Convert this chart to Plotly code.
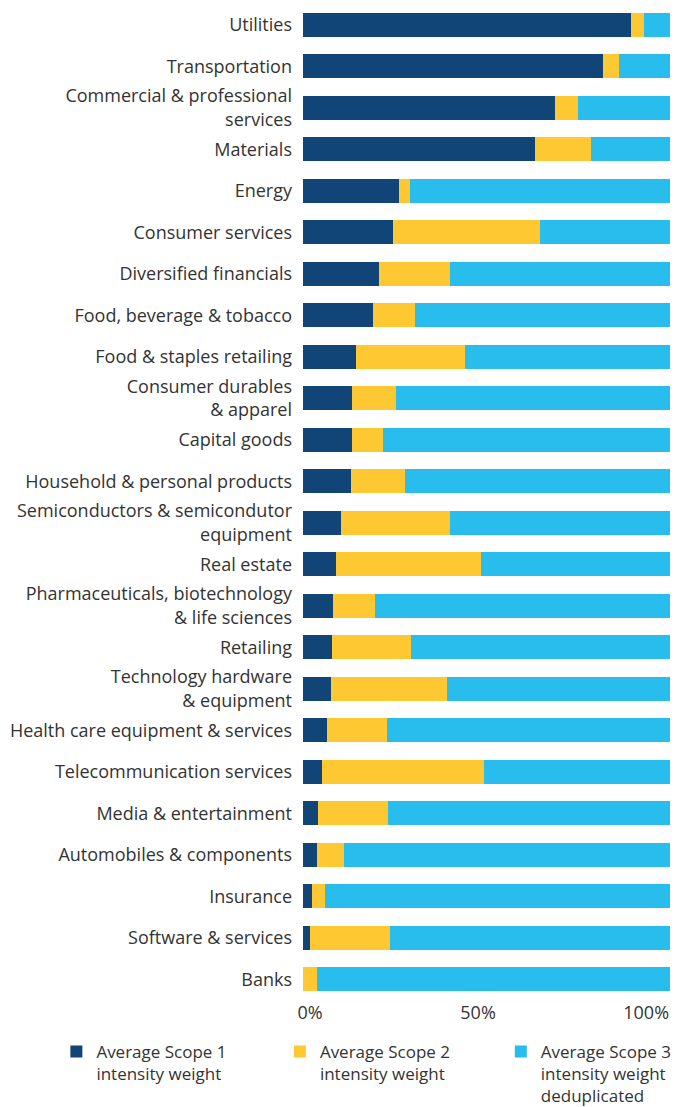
import plotly.graph_objects as go

categories = [
    "Utilities", "Transportation", "Commercial & professional<br>services", "Materials",
    "Energy", "Consumer services", "Diversified financials", "Food, beverage & tobacco",
    "Food & staples retailing", "Consumer durables<br>& apparel", "Capital goods",
    "Household & personal products", "Semiconductors & semicondutor<br>equipment",
    "Real estate", "Pharmaceuticals, biotechnology<br>& life sciences", "Retailing",
    "Technology hardware<br>& equipment", "Health care equipment & services",
    "Telecommunication services", "Media & entertainment", "Automobiles & components",
    "Insurance", "Software & services", "Banks",
]
scope1 = [89.4, 81.7, 68.7, 63.2, 26.2, 24.5, 20.7, 19.1, 14.4, 13.4, 13.4, 13.1,
          10.4, 9.0, 8.2, 7.9, 7.6, 6.5, 5.2, 4.1, 3.8, 2.5, 1.9, 0.0]
scope2 = [3.5, 4.4, 6.3, 15.3, 3.0, 40.1, 19.3, 11.4, 29.7, 12.0, 8.4, 14.7,
          29.7, 39.5, 11.4, 21.5, 31.6, 16.4, 44.1, 19.1, 7.4, 3.5, 21.8, 3.8]
scope3 = [7.1, 13.9, 25.1, 21.5, 70.8, 35.4, 59.9, 69.5, 55.9, 74.7, 78.2, 72.2,
          59.9, 51.5, 80.4, 70.6, 60.8, 77.1, 50.7, 76.8, 88.8, 94.0, 76.3, 96.2]
series_names = ["Average Scope 1<br>intensity weight",
                "Average Scope 2<br>intensity weight",
                "Average Scope 3<br>intensity weight<br>deduplicated"]
colors = ["#124577", "#FEC832", "#29BDEE"]
tick_vals = [1.9, 47.7, 93.5]
tick_text = ["0%", "50%", "100%"]

legend_ids = ["legend", "legend2", "legend3"]
legend_x = [-0.672, -0.063, 0.539]

font_family = "Open Sans, Lato, sans-serif"
txt_color = "#333333"

fig = go.Figure()
for name, vals, col, lid in zip(series_names, [scope1, scope2, scope3], colors, legend_ids):
    fig.add_trace(go.Bar(y=categories, x=vals, name=name, orientation="h",
                         marker=dict(color=col, line=dict(width=0)), legend=lid))

legend_common = dict(y=-0.034, yanchor="top", xanchor="left", valign="top",
                     font=dict(size=17, color=txt_color, family=font_family),
                     itemclick=False, itemdoubleclick=False, bgcolor="rgba(0,0,0,0)")
fig.update_layout(
    barmode="stack",
    width=690, height=1107,
    margin=dict(l=303, r=20, t=4, b=107, autoexpand=False),
    paper_bgcolor="white", plot_bgcolor="white",
    bargap=0.42,
    font=dict(family=font_family, size=18, color=txt_color),
    showlegend=True,
    legend=dict(x=legend_x[0], **legend_common),
    legend2=dict(x=legend_x[1], **legend_common),
    legend3=dict(x=legend_x[2], **legend_common),
)
fig.update_yaxes(categoryorder="array", categoryarray=categories[::-1],
                 showgrid=False, zeroline=False, showline=False, ticks="",
                 ticklabelstandoff=10, tickfont=dict(size=18, color=txt_color))
fig.update_xaxes(range=[0, 100], tickvals=tick_vals, ticktext=tick_text,
                 showgrid=False, zeroline=False, showline=False, ticks="",
                 tickfont=dict(size=18, color=txt_color))

fig.write_html("out.html")
